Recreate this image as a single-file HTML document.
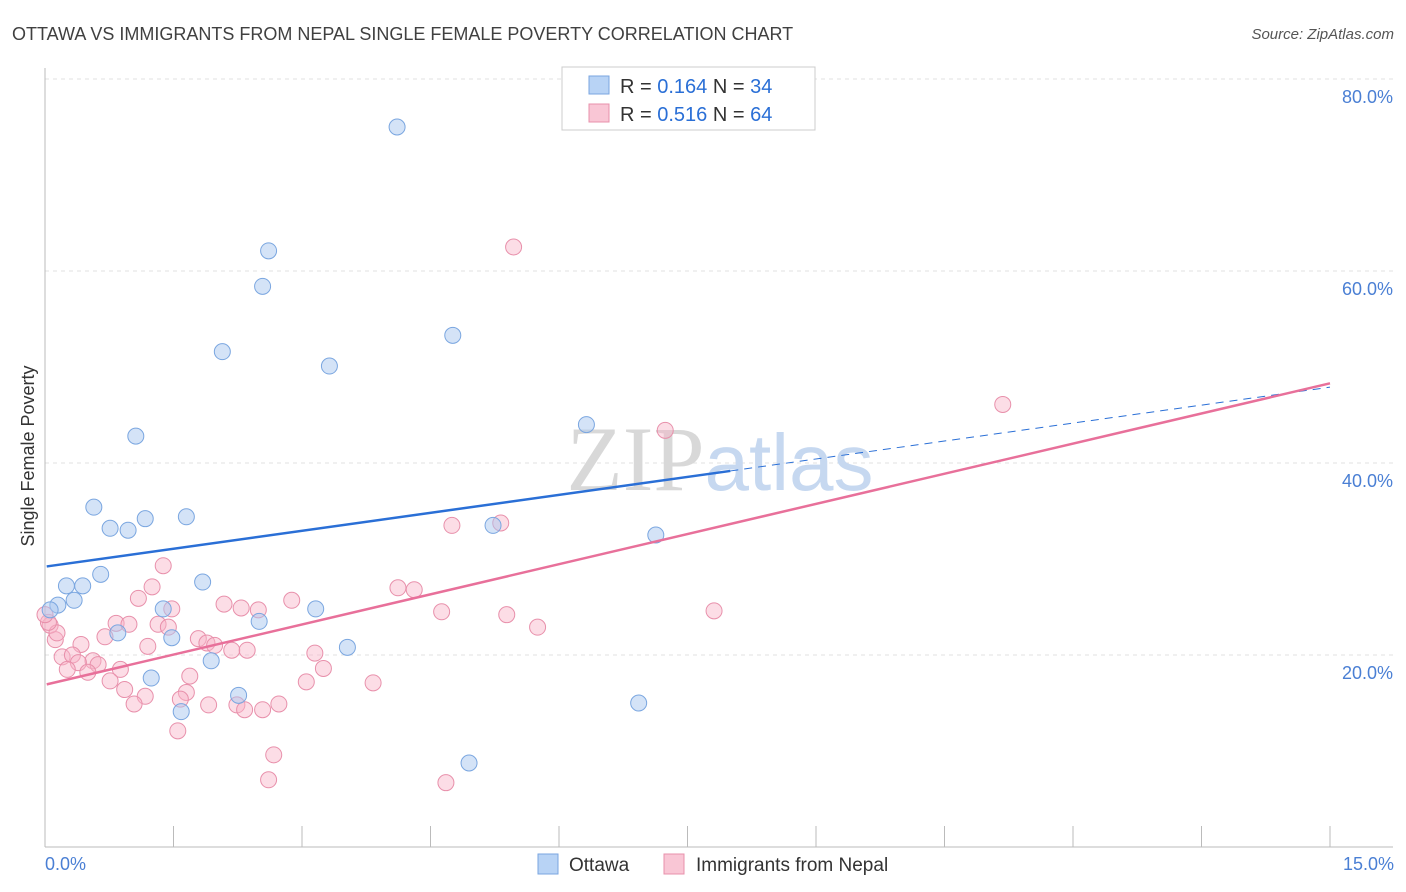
<!DOCTYPE html>
<html><head><meta charset="utf-8"><style>
body{margin:0;background:#fff;font-family:"Liberation Sans",sans-serif;}
svg{display:block}
</style></head><body>
<svg id="chart" width="1406" height="892" viewBox="0 0 1406 892">
<text x="12" y="40" font-size="18" fill="#404040">OTTAWA VS IMMIGRANTS FROM NEPAL SINGLE FEMALE POVERTY CORRELATION CHART</text>
<text x="1394" y="39" font-size="15" fill="#555" font-style="italic" text-anchor="end">Source: ZipAtlas.com</text>
<g id="grid"></g>
<text x="720" y="490" font-size="92" fill="#d8d8d8" text-anchor="middle" font-family="Liberation Serif,serif">ZIP<tspan fill="#c6d8f0" font-family="Liberation Sans,sans-serif" font-size="80">atlas</tspan></text>
<line x1="45" y1="68" x2="45" y2="847" stroke="#bbb"/>
<line x1="45" y1="847" x2="1393" y2="847" stroke="#bbb"/>
<g id="xticks"></g>
<g id="ylabels"></g>
<text x="45" y="870" font-size="18" fill="#4a7fd4">0.0%</text>
<text x="1394" y="870" font-size="18" fill="#4a7fd4" text-anchor="end">15.0%</text>
<text transform="translate(34,456) rotate(-90)" font-size="18" fill="#333" text-anchor="middle">Single Female Poverty</text>
<g id="pinkPts"></g>
<g id="bluePts"></g>
<g id="lines"></g>
<g>
<rect x="562" y="67" width="253" height="63" fill="#fff" stroke="#ccc"/>
<rect x="589" y="76" width="20" height="18" fill="#b8d3f5" stroke="#7aa6e0"/>
<rect x="589" y="104" width="20" height="18" fill="#f9c6d5" stroke="#e890ab"/>
<text x="620" y="93" font-size="20" fill="#333">R = <tspan fill="#2a6fd6">0.164</tspan>   N = <tspan fill="#2a6fd6">34</tspan></text>
<text x="620" y="121" font-size="20" fill="#333">R = <tspan fill="#2a6fd6">0.516</tspan>   N = <tspan fill="#2a6fd6">64</tspan></text>
</g>
<g>
<rect x="538" y="854" width="20" height="20" fill="#b8d3f5" stroke="#7aa6e0"/>
<text x="569" y="871" font-size="19" fill="#333">Ottawa</text>
<rect x="664" y="854" width="20" height="20" fill="#f9c6d5" stroke="#e890ab"/>
<text x="696" y="871" font-size="19" fill="#333">Immigrants from Nepal</text>
</g>
</svg>
<script>
const yTicks=[20,40,60,80];
const yTickLabels=["20.0%","40.0%","60.0%","80.0%"];
const xTickVals=[0,1.5,3,4.5,6,7.5,9,10.5,12,13.5,15];
const blueX=[4.11,2.61,2.54,2.07,4.76,3.32,1.06,6.32,0.57,0.76,0.97,1.17,1.65,5.23,7.13,0.65,0.25,0.44,0.34,0.15,0.06,1.84,1.38,3.16,2.50,0.85,1.48,3.53,1.94,1.24,2.26,1.59,6.93,4.95];
const blueY=[75.0,62.1,58.4,51.6,53.3,50.1,42.8,44.0,35.4,33.2,33.0,34.2,34.4,33.5,32.5,28.4,27.2,27.2,25.7,25.2,24.7,27.6,24.8,24.8,23.5,22.3,21.8,20.8,19.4,17.6,15.8,14.1,15.0,8.75];
const pinkX=[5.47,11.18,7.24,5.32,4.75,1.38,1.25,4.12,4.31,2.88,1.09,2.09,1.48,2.29,2.49,4.63,5.39,7.81,0.83,0.98,1.32,1.44,5.75,0.70,1.79,1.89,1.98,0.42,0.12,0.06,0.14,1.20,2.18,2.36,3.15,0.20,0.32,0.56,0.62,0.39,0.26,0.50,0.88,3.25,1.69,0.76,3.05,3.83,0.93,1.65,1.17,1.58,1.04,1.91,2.24,2.54,2.73,2.33,1.55,2.67,2.61,4.68,0.04,0.0];
const pinkY=[62.5,46.1,43.4,33.75,33.5,29.3,27.1,27.0,26.8,25.7,25.9,25.3,24.8,24.9,24.7,24.5,24.2,24.6,23.3,23.2,23.2,22.9,22.9,21.9,21.7,21.25,21.0,21.1,21.6,23.1,22.3,20.9,20.5,20.5,20.2,19.8,20.0,19.4,19.0,19.2,18.5,18.2,18.5,18.6,17.8,17.3,17.2,17.1,16.4,16.1,15.7,15.4,14.9,14.8,14.8,14.3,14.9,14.3,12.1,9.6,7.0,6.7,23.4,24.2];
const blueTrend=[29.2,47.9];
const blueSolidEnd=8.0;
const pinkTrend=[16.9,48.3];
const NS="http://www.w3.org/2000/svg";
const sx=v=>45+v/15*1285;
const sy=v=>847-v*9.6;
function mk(tag,attrs,parent){const e=document.createElementNS(NS,tag);for(const k in attrs)e.setAttribute(k,attrs[k]);parent.appendChild(e);return e;}
const grid=document.getElementById('grid'),yl=document.getElementById('ylabels'),xt=document.getElementById('xticks');
yTicks.forEach((t,i)=>{
 const l=mk('line',{x1:45,x2:1393,y1:sy(t),y2:sy(t),stroke:'#e0e0e0','stroke-dasharray':'4,4'},grid);
 
 
 const tx=mk('text',{x:1393,y:sy(t)+24,'font-size':18,fill:'#4a7fd4','text-anchor':'end'},yl);
 tx.textContent=yTickLabels[i];
 
 
});
xTickVals.forEach(v=>{
 const l=mk('line',{x1:sx(v),x2:sx(v),y1:826,y2:847,stroke:'#bbb'},xt);
 
 
});
const pg=document.getElementById('pinkPts');
pinkX.forEach((x,i)=>{
 const c=mk('circle',{cx:sx(x),cy:sy(pinkY[i]),r:8,fill:'rgba(248,180,200,0.45)',stroke:'#e890ab','stroke-width':1},pg);
 
 
});
const bg=document.getElementById('bluePts');
blueX.forEach((x,i)=>{
 const c=mk('circle',{cx:sx(x),cy:sy(blueY[i]),r:8,fill:'rgba(170,200,240,0.5)',stroke:'#7aa6e0','stroke-width':1},bg);
 
 
});
const lg=document.getElementById('lines');
const bAt=x=>blueTrend[0]+(blueTrend[1]-blueTrend[0])*x/15;
const pAt=x=>pinkTrend[0]+(pinkTrend[1]-pinkTrend[0])*x/15;
const b1=mk('line',{x1:sx(0.02),y1:sy(bAt(0.02)),x2:sx(blueSolidEnd),y2:sy(bAt(blueSolidEnd)),stroke:'#2a6fd6','stroke-width':2.5},lg);


const b2=mk('line',{x1:sx(blueSolidEnd),y1:sy(bAt(blueSolidEnd)),x2:sx(15),y2:sy(bAt(15)),stroke:'#2a6fd6','stroke-width':1,'stroke-dasharray':'8,6'},lg);


const p1=mk('line',{x1:sx(0.02),y1:sy(pAt(0.02)),x2:sx(15),y2:sy(pAt(15)),stroke:'#e8709a','stroke-width':2.5},lg);


</script>
</body></html>
